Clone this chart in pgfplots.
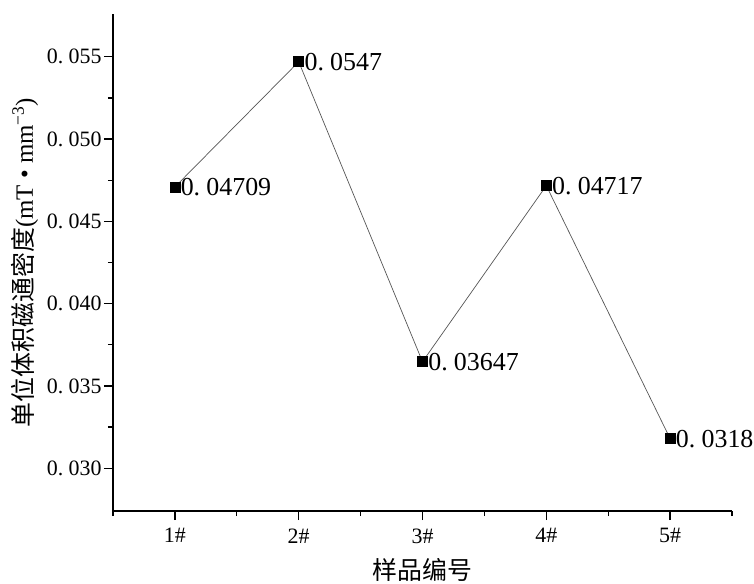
\documentclass[border=0pt]{standalone}
\usepackage{fontspec}
\setmainfont{Liberation Serif}
\newfontfamily\cjk{Noto Sans CJK SC}
\usepackage{pgfplots}
\pgfplotsset{compat=1.18}
\newcommand\dsep{.\hspace{0.24em}}
\definecolor{linegray}{RGB}{85,85,85}
\begin{document}
\begin{tikzpicture}
\begin{axis}[
  name=ax,
  width=619bp, height=497bp, scale only axis,
  xmin=0.5, xmax=5.5, ymin=0.0274, ymax=0.0576,
  axis lines*=left,
  axis line style={line width=1.3bp, black},
  xtick={1,2,3,4,5},
  xticklabels={1\#,2\#,3\#,4\#,5\#},
  minor xtick={0.5,1.5,2.5,3.5,4.5,5.5},
  ytick={0.030,0.035,0.040,0.045,0.050,0.055},
  minor ytick={0.0325,0.0375,0.0425,0.0475,0.0525},
  tick align=outside,
  major tick length=9bp, minor tick length=5bp,
  every tick/.style={line width=1.3bp, black},
  tick label style={font=\fontsize{22}{26}\selectfont},
  xticklabel style={yshift=-5bp},
  scaled y ticks=false,
  yticklabel style={xshift=1bp, /pgf/number format/fixed, /pgf/number format/fixed zerofill, /pgf/number format/precision=3, /pgf/number format/dec sep={\dsep}, /pgf/number format/assume math mode=true},
  xlabel={\cjk 样品编号},
  ylabel={\cjk 单位体积磁通密度{\rmfamily (mT • mm\textsuperscript{−3})}},
  every axis x label/.style={at={([yshift=-59bp]axis description cs:0.5,0)}, anchor=center, font=\fontsize{25}{30}\selectfont},
  every axis y label/.style={at={([xshift=-88bp]axis description cs:0,0.5)}, rotate=90, anchor=center, font=\fontsize{25}{30}\selectfont},
  clip=false,
]
\addplot[color=linegray, line width=0.7bp, mark=square*, mark size=5bp,
  mark options={black, solid},
  nodes near coords, point meta=explicit symbolic,
  nodes near coords style={anchor=west, xshift=5bp, font=\fontsize{26}{31}\selectfont, inner sep=0.5bp, text=black}]
  coordinates {
    (1,0.04709) [0\dsep 04709]
    (2,0.0547) [0\dsep 0547]
    (3,0.03647) [0\dsep 03647]
    (4,0.04717) [0\dsep 04717]
    (5,0.0318) [0\dsep 0318]
  };
\end{axis}
\pgfresetboundingbox
\path ([xshift=-113bp,yshift=-72bp]ax.south west) rectangle ([xshift=22bp,yshift=14bp]ax.north east);
\end{tikzpicture}
\end{document}
